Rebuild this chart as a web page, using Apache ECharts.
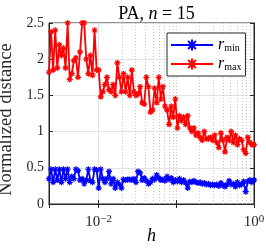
<!DOCTYPE html>
<html><head><meta charset="utf-8">
<script src="https://cdn.jsdelivr.net/npm/echarts@6/dist/echarts.min.js"></script>
<style>html,body{margin:0;padding:0;background:#fff}#c{width:266px;height:248px}</style>
</head><body><div id="c"></div>
<script>
const hValues = [
0.002291,0.002436,0.002590,0.002754,0.002929,0.003114,0.003311,0.003521,0.003744,0.003981,
0.004233,0.004501,0.004786,0.005089,0.005412,0.005754,0.006119,0.006506,0.006918,0.007356,
0.007822,0.008318,0.008844,0.009404,0.01000,0.01063,0.01131,0.01202,0.01278,0.01359,
0.01445,0.01537,0.01634,0.01738,0.01848,0.01965,0.02089,0.02222,0.02362,0.02512,
0.02671,0.02840,0.03020,0.03211,0.03415,0.03631,0.03861,0.04105,0.04365,0.04642,
0.04936,0.05248,0.05580,0.05934,0.06310,0.06709,0.07134,0.07586,0.08066,0.08577,
0.09120,0.09698,0.1031,0.1097,0.1166,0.1240,0.1318,0.1402,0.1491,0.1585,
0.1685,0.1792,0.1905,0.2026,0.2154,0.2291,0.2436,0.2590,0.2754,0.2929,
0.3114,0.3311,0.3521,0.3744,0.3981,0.4233,0.4501,0.4786,0.5089,0.5412,
0.5754,0.6119,0.6506,0.6918,0.7356,0.7822,0.8318,0.8844,0.9404,1.0000];

const rMax = [
1.82,2.38,1.85,2.40,1.88,2.20,2.05,2.15,1.88,2.50,
1.72,1.80,1.98,2.02,1.75,2.10,2.50,2.50,2.00,1.80,
2.05,1.78,2.40,1.85,1.85,1.48,1.55,1.65,1.75,1.58,
1.55,1.65,1.50,1.95,1.75,1.55,1.80,1.55,1.75,1.50,
1.85,1.55,1.50,1.52,1.62,1.40,1.38,1.75,1.62,1.27,
1.30,1.60,1.40,1.75,1.45,1.62,1.35,1.30,1.10,1.35,
1.20,1.45,1.05,1.22,1.15,1.20,1.10,1.22,1.05,1.00,
1.05,0.95,0.98,0.92,0.88,1.00,0.90,0.90,0.92,0.88,
0.95,0.85,0.78,0.98,0.88,0.72,0.92,0.88,1.00,0.85,
0.95,0.82,0.90,0.88,0.75,0.70,0.92,0.85,0.82,0.82];

const rMin = [
0.35,0.48,0.30,0.48,0.33,0.48,0.30,0.48,0.35,0.48,
0.30,0.38,0.35,0.48,0.46,0.33,0.35,0.28,0.33,0.48,
0.32,0.30,0.48,0.47,0.22,0.48,0.35,0.30,0.35,0.45,
0.28,0.35,0.22,0.30,0.27,0.22,0.34,0.33,0.34,0.34,
0.33,0.35,0.30,0.45,0.43,0.33,0.36,0.32,0.28,0.30,
0.35,0.34,0.40,0.36,0.33,0.34,0.32,0.38,0.34,0.36,
0.30,0.33,0.31,0.35,0.30,0.33,0.29,0.22,0.31,0.30,
0.32,0.30,0.29,0.30,0.28,0.29,0.27,0.28,0.26,0.27,
0.26,0.27,0.25,0.29,0.26,0.24,0.27,0.32,0.27,0.28,
0.24,0.30,0.26,0.27,0.31,0.17,0.31,0.33,0.30,0.33];

const yTicks = [0, 0.5, 1, 1.5, 2, 2.5];
const xLabelExponents = [-2, 0];
const majorGridX = [0.01];
const minorGridX = [0.003,0.004,0.005,0.006,0.007,0.008,0.009,
  0.02,0.03,0.04,0.05,0.06,0.07,0.08,0.09,0.1,
  0.2,0.3,0.4,0.5,0.6,0.7,0.8,0.9];

const SERIF = "'Liberation Serif','DejaVu Serif',serif";
const AX = '#262626';
const star = 'path://M5,0L5,10M0,5L10,5M1.5,1.5L8.5,8.5M8.5,1.5L1.5,8.5';

const chart = echarts.init(document.getElementById('c'), null, {renderer: 'canvas'});
const xMin = hValues[0], xMax = hValues[hValues.length - 1];

function mkSeries(name, vals, color) {
  return {
    name: name, type: 'line', data: hValues.map((h, i) => [h, vals[i]]),
    symbol: star, symbolSize: 6, showSymbol: true,
    lineStyle: {color: color, width: 1.8},
    itemStyle: {color: color, borderColor: color, borderWidth: 1.2},
    z: 3, silent: true
  };
}

chart.setOption({
  animation: false,
  title: [{
    text: '{a|PA, }{n|n}{a| = 15}', left: 151.5, textAlign: 'center', top: 0,
    textStyle: {rich: {
      a: {fontFamily: SERIF, fontSize: 18, fontWeight: 'normal', color: '#000'},
      n: {fontFamily: SERIF, fontSize: 18, fontWeight: 'normal', fontStyle: 'italic', color: '#000'}
    }}
  }, {
    text: 'h', left: 151.5, textAlign: 'center', top: 227, padding: 0,
    textStyle: {fontFamily: SERIF, fontSize: 18, fontWeight: 'normal', fontStyle: 'italic', color: '#000'}
  }],
  grid: {left: 49, right: 12, top: 23, bottom: 44, containLabel: false, outerBoundsMode: 'none',
    show: true, borderColor: AX, borderWidth: 1, backgroundColor: '#fff'},
  legend: {
    data: ['rmin', 'rmax'], orient: 'vertical', left: 167, top: 33,
    padding: [4, 4, 4, 3], itemGap: 3, itemWidth: 42, itemHeight: 14,
    backgroundColor: '#fff', borderColor: AX, borderWidth: 1, borderRadius: 0,
    formatter: n => n === 'rmin' ? '{r|r}{s|min}' : '{r|r}{s|max}',
    textStyle: {rich: {
      r: {fontFamily: SERIF, fontSize: 16, fontStyle: 'italic', color: '#000', lineHeight: 16},
      s: {fontFamily: SERIF, fontSize: 10, color: '#000', verticalAlign: 'bottom', lineHeight: 16, padding: [5, 0, 0, 0]}
    }}
  },
  xAxis: [{
    type: 'log', logBase: 10, min: xMin, max: xMax, position: 'bottom',
    axisLine: {show: true, lineStyle: {color: AX, width: 1}},
    axisTick: {show: true, inside: true, length: 4, lineStyle: {color: AX}},
    splitLine: {show: false},
    axisLabel: {
      margin: 10, showMinLabel: true, showMaxLabel: true,
      formatter: v => {
        const e = Math.round(Math.log10(v));
        if (Math.abs(Math.log10(v) - e) > 1e-6 || xLabelExponents.indexOf(e) < 0) return '';
        return '{b|10}{e|' + (e < 0 ? '\u2212' + (-e) : e) + '}';
      },
      rich: {
        b: {fontFamily: SERIF, fontSize: 15, color: AX, lineHeight: 16},
        e: {fontFamily: SERIF, fontSize: 11, color: AX, verticalAlign: 'top', lineHeight: 16, padding: [0, 0, 6, 0]}
      }
    }
  }, {
    type: 'log', logBase: 10, min: xMin, max: xMax, position: 'top',
    axisLine: {show: true, lineStyle: {color: AX, width: 1}},
    axisTick: {show: true, inside: true, length: 4, lineStyle: {color: AX}},
    axisLabel: {show: false}, splitLine: {show: false}
  }],
  yAxis: [{
    type: 'value', min: yTicks[0], max: yTicks[yTicks.length - 1], interval: 0.5,
    name: 'Normalized distance', nameLocation: 'middle', nameGap: 31, nameRotate: 90,
    nameTextStyle: {fontFamily: SERIF, fontSize: 18.5, color: AX, padding: [0, 12, 0, 0]},
    axisLine: {show: true, lineStyle: {color: AX, width: 1}},
    axisTick: {show: true, inside: true, length: 4, lineStyle: {color: AX}},
    splitLine: {show: true, lineStyle: {color: '#e3e3e3', width: 1}},
    axisLabel: {margin: 5, fontFamily: SERIF, fontSize: 14, color: AX,
      formatter: v => String(v)}
  }, {
    type: 'value', min: yTicks[0], max: yTicks[yTicks.length - 1], interval: 0.5, position: 'right',
    axisLine: {show: true, lineStyle: {color: AX, width: 1}},
    axisTick: {show: true, inside: true, length: 4, lineStyle: {color: AX}},
    axisLabel: {show: false}, splitLine: {show: false}
  }],
  series: [
    {name: 'gridMinor', type: 'line', data: [], silent: true, z: 0,
      markLine: {silent: true, symbol: ['none', 'none'], z: 0, animation: false,
        label: {show: false}, lineStyle: {color: '#c4c4c4', type: [1, 2], width: 1},
        data: minorGridX.map(v => ({xAxis: v}))}},
    {name: 'gridMajor', type: 'line', data: [], silent: true, z: 0,
      markLine: {silent: true, symbol: ['none', 'none'], z: 0, animation: false,
        label: {show: false}, lineStyle: {color: '#e3e3e3', type: 'solid', width: 1},
        data: majorGridX.map(v => ({xAxis: v}))}},
    mkSeries('rmin', rMin, '#0000ff'),
    mkSeries('rmax', rMax, '#ff0000')
  ]
});
</script>
</body></html>
